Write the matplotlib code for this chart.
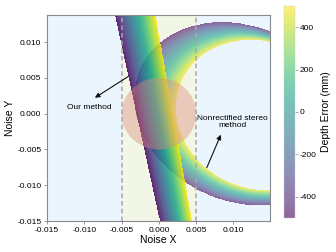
import numpy as np
import matplotlib
matplotlib.use("Agg")
import matplotlib.pyplot as plt
from matplotlib.patches import Circle

plt.rcParams['font.family'] = ['Liberation Sans', 'DejaVu Sans']
plt.rcParams['axes.unicode_minus'] = False

# axis ranges and ticks
x_lim = (-0.015, 0.0149)
y_lim = (-0.015, 0.0138)
x_ticks = [-0.015, -0.010, -0.005, 0.000, 0.005, 0.010]
y_ticks = [-0.015, -0.010, -0.005, 0.000, 0.005, 0.010]
bound_x = [-0.005, 0.005]  # dashed limits of the valid region

# depth error range shown by the colour scale
err_lim = (-500, 500)
cbar_ticks = [-400, -200, 0, 200, 400]

# "our method": straight iso-error lines, x = offset + slope * y  (for err -500 / +500)
strip_offset = [-0.0030, 0.0019]
strip_slope = [-0.21, -0.17]

# nonrectified stereo: iso-error ellipses (outer = -500, inner = +500)
ring_center = [(0.0110, 0.0000), (0.0135, -0.0002)]
ring_axes = [(0.0149, 0.0121), (0.0115, 0.0102)]
ring_angle = -29.0

# noise disc
noise_center = (0.0, 0.0)
noise_radius = 0.005

# grid for the error maps
xs = np.linspace(x_lim[0], x_lim[1], 800)
ys = np.linspace(y_lim[0], y_lim[1], 800)
X, Y = np.meshgrid(xs, ys)

# strip field
den = (strip_offset[1] - strip_offset[0]) + (strip_slope[1] - strip_slope[0]) * Y
t_strip = (X - strip_offset[0] - strip_slope[0] * Y) / den
err_strip = err_lim[0] + t_strip * (err_lim[1] - err_lim[0])
err_strip = np.ma.masked_where((t_strip < 0) | (t_strip > 1), err_strip)

# ring field (nested ellipses)
ts = np.linspace(0, 1, 161)
cnt = np.zeros(X.shape)
th = np.deg2rad(ring_angle)
for t in ts:
    cx = ring_center[0][0] + t * (ring_center[1][0] - ring_center[0][0])
    cy = ring_center[0][1] + t * (ring_center[1][1] - ring_center[0][1])
    a = ring_axes[0][0] + t * (ring_axes[1][0] - ring_axes[0][0])
    b = ring_axes[0][1] + t * (ring_axes[1][1] - ring_axes[0][1])
    dx, dy = X - cx, Y - cy
    u = dx * np.cos(th) + dy * np.sin(th)
    v = -dx * np.sin(th) + dy * np.cos(th)
    cnt += ((u / a) ** 2 + (v / b) ** 2 <= 1)
t_ring = (cnt - 1) / (len(ts) - 1)
err_ring = err_lim[0] + t_ring * (err_lim[1] - err_lim[0])
err_ring = np.ma.masked_where((cnt == 0) | (cnt == len(ts)), err_ring)

fig = plt.figure(figsize=(3.36, 2.52), dpi=100)
ax = fig.add_axes([47/336, 1-221/252, 223/336, 206/252])
cax = fig.add_axes([284/336, 1-218/252, 11/336, 212/252])

ax.set_facecolor('#ebf5fd')
ax.axvspan(bound_x[0], bound_x[1], color='#f2f6e6', zorder=0)

ext = [x_lim[0], x_lim[1], y_lim[0], y_lim[1]]
im = ax.imshow(err_ring, extent=ext, origin='lower', cmap='viridis', vmin=err_lim[0], vmax=err_lim[1],
               alpha=0.6, aspect='auto', interpolation='nearest', zorder=1)
ax.imshow(err_strip, extent=ext, origin='lower', cmap='viridis', vmin=err_lim[0], vmax=err_lim[1],
          alpha=0.85, aspect='auto', interpolation='nearest', zorder=2)

ax.add_patch(Circle(noise_center, noise_radius, color='#de8c7c', alpha=0.42, lw=0, zorder=3))

for bx in bound_x:
    ax.axvline(bx, color='#a8a8a8', lw=1.1, dashes=(3, 2), zorder=4)

ax.annotate('', xy=(-0.00858, 0.00223), xytext=(-0.00416, 0.00517),
            arrowprops=dict(arrowstyle='-|>', color='#111111', lw=0.8, mutation_scale=7,
                            shrinkA=0, shrinkB=0), zorder=5)
ax.text(-0.00938, 0.00084, 'Our method', fontsize=6, ha='center', va='center', zorder=5)
ax.annotate('', xy=(0.00831, -0.00293), xytext=(0.00643, -0.00754),
            arrowprops=dict(arrowstyle='-|>', color='#111111', lw=0.8, mutation_scale=7,
                            shrinkA=0, shrinkB=0), zorder=5)
ax.text(0.00992, -0.00112, 'Nonrectified stereo\nmethod', fontsize=6, ha='center', va='center',
        linespacing=1.0, zorder=5)

ax.set_xlim(x_lim)
ax.set_ylim(y_lim)
ax.set_xticks(x_ticks)
ax.set_yticks(y_ticks)
ax.set_xticklabels([f'{v:.3f}' for v in x_ticks])
ax.set_yticklabels([f'{v:.3f}' for v in y_ticks])
ax.tick_params(labelsize=6, length=2.5, width=0.6, color='#888888', pad=1.5)
for s in ax.spines.values():
    s.set_color('#8a8a8a')
    s.set_linewidth(0.8)
ax.set_xlabel('Noise X', fontsize=7.5, labelpad=1)
ax.set_ylabel('Noise Y', fontsize=7.5, labelpad=2)

cb = fig.colorbar(im, cax=cax, ticks=cbar_ticks)
cb.outline.set_linewidth(0.3)
cb.outline.set_edgecolor('#cccccc')
cb.ax.tick_params(labelsize=6, length=2, width=0.5, color='#888888', pad=1.5)
cb.set_label('Depth Error (mm)', fontsize=7.5, labelpad=3)

fig.savefig('out.png', dpi=100)
